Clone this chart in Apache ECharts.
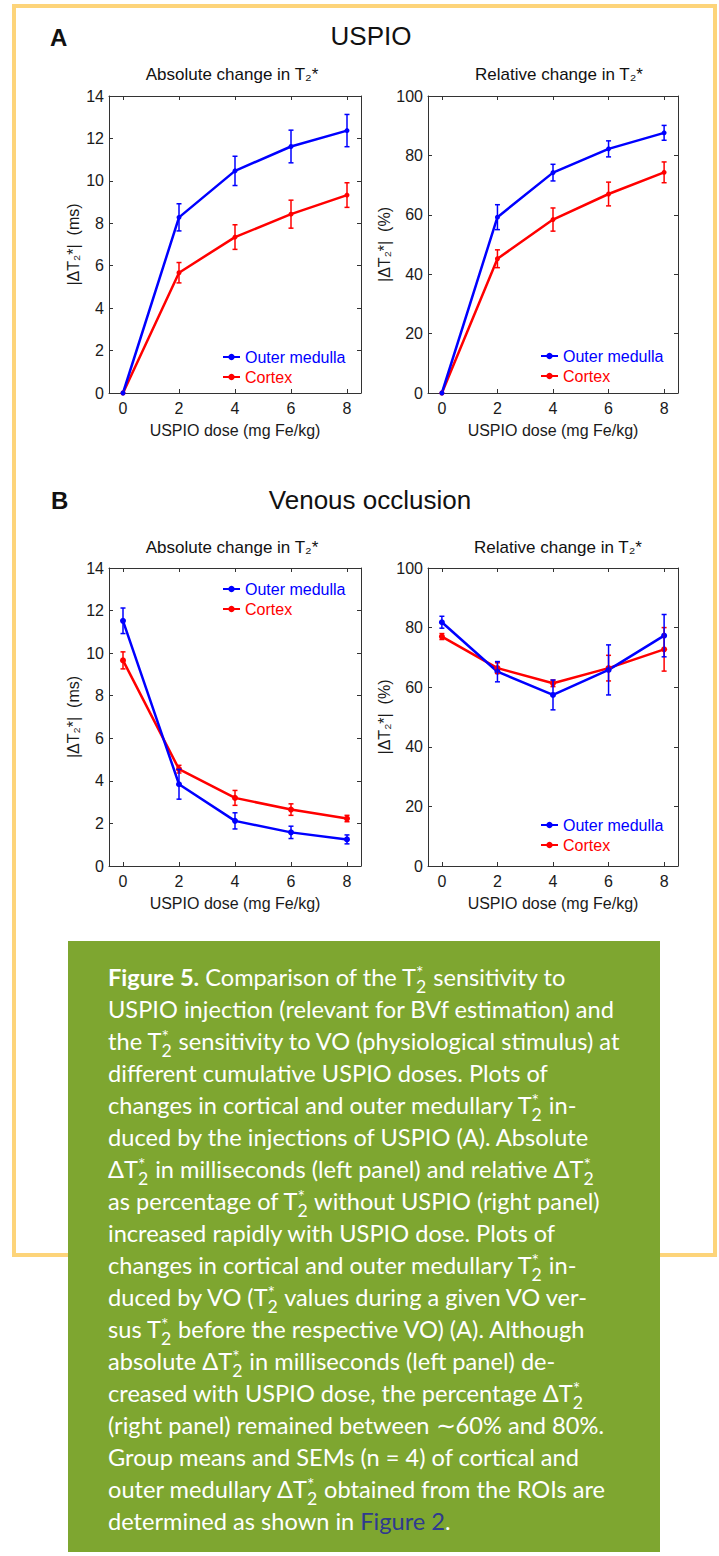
<!DOCTYPE html>
<html>
<head>
<meta charset="utf-8">
<script src="https://cdn.jsdelivr.net/npm/echarts@6/dist/echarts.min.js"></script>
<style>
html,body{margin:0;padding:0;background:#fff;}
body{width:719px;height:1556px;position:relative;overflow:hidden;}
#frame{position:absolute;left:12px;top:4px;width:705px;height:1253px;border:4px solid #fdd47a;box-sizing:border-box;}
#chart{position:absolute;left:0;top:0;width:719px;height:940px;}
#caption{position:absolute;left:68px;top:941px;width:592px;height:611px;background:#7ea630;box-sizing:border-box;padding:20px 0 0 40px;color:#fff;font-family:Lato,'Open Sans',sans-serif;font-size:20px;}
#caption .ln{height:32px;line-height:32px;white-space:nowrap;}
#caption b{font-weight:700;}
.ss{display:inline-block;white-space:pre;font-size:0.75em;line-height:0.81;vertical-align:-0.4em;text-align:left;margin-right:0.05em;}
.lnk{color:#2f3a8f;}
</style>
</head>
<body>
<div id="frame"></div>
<div id="chart"></div>
<div id="caption"></div>
<script>
// ---- data ----
const doses = [0, 2, 4, 6, 8];
const doseTicks = [0, 2, 4, 6, 8];
// A: USPIO, absolute change (ms)
const medullaAbsUSPIO    = [0, 8.28, 10.47, 11.62, 12.37];
const medullaAbsUSPIOErr = [0, 0.64, 0.69, 0.77, 0.76];
const cortexAbsUSPIO     = [0, 5.67, 7.35, 8.43, 9.33];
const cortexAbsUSPIOErr  = [0, 0.48, 0.58, 0.66, 0.58];
// A: USPIO, relative change (%)
const medullaRelUSPIO    = [0, 59.2, 74.2, 82.2, 87.6];
const medullaRelUSPIOErr = [0, 4.2, 2.8, 2.7, 2.5];
const cortexRelUSPIO     = [0, 45.2, 58.4, 67.0, 74.3];
const cortexRelUSPIOErr  = [0, 3.0, 3.9, 4.0, 3.5];
// B: venous occlusion, absolute change (ms)
const medullaAbsVO    = [11.52, 3.84, 2.12, 1.58, 1.25];
const medullaAbsVOErr = [0.6, 0.7, 0.38, 0.29, 0.21];
const cortexAbsVO     = [9.66, 4.55, 3.2, 2.65, 2.23];
const cortexAbsVOErr  = [0.4, 0.18, 0.35, 0.27, 0.15];
// B: venous occlusion, relative change (%)
const medullaRelVO    = [81.8, 65.2, 57.4, 65.8, 77.3];
const medullaRelVOErr = [2.0, 3.4, 5.0, 8.4, 7.1];
const cortexRelVO     = [77.0, 66.4, 61.3, 66.4, 72.7];
const cortexRelVOErr  = [1.0, 1.8, 1.1, 4.3, 7.3];

const seriesNames = ['Outer medulla', 'Cortex'];
const xAxisName = 'USPIO dose (mg Fe/kg)';
const yNameAbs = '|ΔT₂*|  (ms)';
const yNameRel = '|ΔT₂*|  (%)';
const absTitle = 'Absolute change in T₂*';
const relTitle = 'Relative change in T₂*';

const captionLines = [
 '<b>Figure 5.</b> Comparison of the T§ sensitivity to',
 'USPIO injection (relevant for BVf estimation) and',
 'the T§ sensitivity to VO (physiological stimulus) at',
 'different cumulative USPIO doses. Plots of',
 'changes in cortical and outer medullary T§ in-',
 'duced by the injections of USPIO (A). Absolute',
 'ΔT§ in milliseconds (left panel) and relative ΔT§',
 'as percentage of T§ without USPIO (right panel)',
 'increased rapidly with USPIO dose. Plots of',
 'changes in cortical and outer medullary T§ in-',
 'duced by VO (T§ values during a given VO ver-',
 'sus T§ before the respective VO) (A). Although',
 'absolute ΔT§ in milliseconds (left panel) de-',
 'creased with USPIO dose, the percentage ΔT§',
 '(right panel) remained between ∼60% and 80%.',
 'Group means and SEMs (n = 4) of cortical and',
 'outer medullary ΔT§ obtained from the ROIs are',
 'determined as shown in <span class="lnk">Figure 2</span>.'
];

// ---- caption ----
const cap = document.getElementById('caption');
cap.innerHTML = captionLines.map((l, i) =>
  '<div class="ln"><span' + (i === 1 ? ' id="fit"' : '') + '>' +
  l.replace(/T§/g, 'T<span class="ss">*\n2</span>') +
  '</span></div>').join('');
function fitCaption() {
  cap.style.fontSize = '20px';
  const w = document.getElementById('fit').getBoundingClientRect().width;
  cap.style.fontSize = (20 * 506 / w).toFixed(2) + 'px';
}
fitCaption();
if (document.fonts && document.fonts.ready) document.fonts.ready.then(fitCaption);

// ---- chart ----
const FF = "'Liberation Sans', Arial, Helvetica, sans-serif";
const axisColor = '#333';
const labelColor = '#1a1a1a';
const BLUE = '#0000ff', RED = '#ff0000';

const grids = [
  {left: 109, top: 96, width: 252, height: 297},
  {left: 428, top: 96, width: 250, height: 297},
  {left: 109, top: 568, width: 252, height: 298},
  {left: 428, top: 568, width: 250, height: 298}
];

function xAxesFor(i) {
  const line = {onZero: false, lineStyle: {color: axisColor, width: 1}};
  return [
    {type: 'value', gridIndex: i, position: 'bottom', min: -0.5, max: 8.5,
     axisLine: line,
     axisTick: {show: true, inside: true, length: 4, customValues: doseTicks, lineStyle: {color: axisColor}},
     axisLabel: {customValues: doseTicks, margin: 7, fontSize: 16, color: labelColor, fontFamily: FF},
     splitLine: {show: false},
     name: xAxisName, nameLocation: 'middle', nameGap: 29,
     nameTextStyle: {fontSize: 16, color: labelColor, fontFamily: FF}},
    {type: 'value', gridIndex: i, position: 'top', min: -0.5, max: 8.5,
     axisLine: line,
     axisTick: {show: true, inside: true, length: 4, customValues: doseTicks, lineStyle: {color: axisColor}},
     axisLabel: {show: false}, splitLine: {show: false}}
  ];
}
function yAxesFor(i, max, interval, name, gap) {
  const line = {show: true, onZero: false, lineStyle: {color: axisColor, width: 1}};
  return [
    {type: 'value', gridIndex: i, position: 'left', min: 0, max: max, interval: interval,
     axisLine: line,
     axisTick: {show: true, inside: true, length: 4, lineStyle: {color: axisColor}},
     axisLabel: {margin: 5, fontSize: 16, color: labelColor, fontFamily: FF},
     splitLine: {show: false},
     name: name, nameLocation: 'middle', nameGap: gap, nameRotate: 90,
     nameTextStyle: {fontSize: 16, color: labelColor, fontFamily: FF}},
    {type: 'value', gridIndex: i, position: 'right', min: 0, max: max, interval: interval,
     axisLine: line,
     axisTick: {show: true, inside: true, length: 4, lineStyle: {color: axisColor}},
     axisLabel: {show: false}, splitLine: {show: false}}
  ];
}

function lineSeries(name, color, i, vals, size) {
  return {type: 'line', name: name, xAxisIndex: 2 * i, yAxisIndex: 2 * i,
    data: doses.map((d, k) => [d, vals[k]]),
    color: color, lineStyle: {color: color, width: 2.5}, itemStyle: {color: color},
    symbol: 'circle', symbolSize: size, showSymbol: true, z: 3,
    emphasis: {disabled: true}, animation: false};
}
function errSeries(color, i, vals, errs) {
  return {type: 'custom', name: 'err' + i + color, xAxisIndex: 2 * i, yAxisIndex: 2 * i,
    data: doses.map((d, k) => [d, vals[k], errs[k]]),
    encode: {x: 0, y: 1}, z: 4, silent: true, animation: false,
    renderItem: function (params, api) {
      const x = api.value(0), y = api.value(1), e = api.value(2);
      if (!e) return {type: 'group', children: []};
      const t = api.coord([x, y + e]), b = api.coord([x, y - e]);
      const w = 2.5;
      const st = {stroke: color, lineWidth: 1.5};
      return {type: 'group', children: [
        {type: 'line', shape: {x1: t[0], y1: t[1], x2: b[0], y2: b[1]}, style: st},
        {type: 'line', shape: {x1: t[0] - w, y1: t[1], x2: t[0] + w, y2: t[1]}, style: st},
        {type: 'line', shape: {x1: b[0] - w, y1: b[1], x2: b[0] + w, y2: b[1]}, style: st}
      ]};
    }};
}
function panelSeries(i, om, omE, cx, cxE, size) {
  return [
    lineSeries(seriesNames[1], RED, i, cx, size),
    lineSeries(seriesNames[0], BLUE, i, om, size),
    errSeries(RED, i, cx, cxE),
    errSeries(BLUE, i, om, omE)
  ];
}
function legendAt(left, top) {
  return {left: left, top: top, orient: 'vertical', itemWidth: 17, itemHeight: 8, itemGap: 4,
    padding: 0, selectedMode: false,
    textStyle: {fontSize: 16, fontFamily: FF},
    data: [{name: seriesNames[0], textStyle: {color: BLUE}},
           {name: seriesNames[1], textStyle: {color: RED}}]};
}
function txt(text, x, y, size, weight, align) {
  return {type: 'text', x: x, y: y, silent: true,
    style: {text: text, fontSize: size, fontWeight: weight, fontFamily: FF, fill: '#111',
      align: align, textAlign: align, verticalAlign: 'middle', textVerticalAlign: 'middle'}};
}

const option = {
  animation: false,
  grid: grids,
  xAxis: [].concat(xAxesFor(0), xAxesFor(1), xAxesFor(2), xAxesFor(3)),
  yAxis: [].concat(yAxesFor(0, 14, 2, yNameAbs, 28), yAxesFor(1, 100, 20, yNameRel, 31),
                   yAxesFor(2, 14, 2, yNameAbs, 28), yAxesFor(3, 100, 20, yNameRel, 31)),
  legend: [legendAt(222, 349), legendAt(540, 348), legendAt(222, 581), legendAt(540, 817)],
  series: [].concat(
    panelSeries(0, medullaAbsUSPIO, medullaAbsUSPIOErr, cortexAbsUSPIO, cortexAbsUSPIOErr, 5),
    panelSeries(1, medullaRelUSPIO, medullaRelUSPIOErr, cortexRelUSPIO, cortexRelUSPIOErr, 5),
    panelSeries(2, medullaAbsVO, medullaAbsVOErr, cortexAbsVO, cortexAbsVOErr, 6),
    panelSeries(3, medullaRelVO, medullaRelVOErr, cortexRelVO, cortexRelVOErr, 6)
  ),
  graphic: [
    txt('A', 50, 37, 24, 'bold', 'left'),
    txt('USPIO', 371, 36, 26, 'normal', 'center'),
    txt(absTitle, 232, 74, 17, 'normal', 'center'),
    txt(relTitle, 559, 74, 17, 'normal', 'center'),
    txt('B', 51, 500, 24, 'bold', 'left'),
    txt('Venous occlusion', 370, 500, 26, 'normal', 'center'),
    txt(absTitle, 232, 547, 17, 'normal', 'center'),
    txt(relTitle, 558, 547, 17, 'normal', 'center')
  ]
};
const chart = echarts.init(document.getElementById('chart'), null, {renderer: 'svg'});
chart.setOption(option);
</script>
</body>
</html>
